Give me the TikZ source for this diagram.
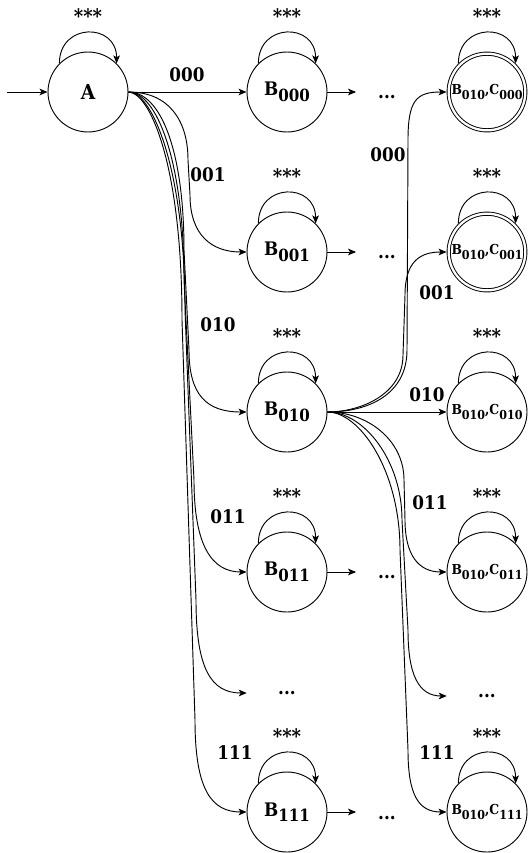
\documentclass[tikz,border=0pt]{standalone}
\usepackage{fontspec}
\setmainfont{DejaVu Serif Condensed}
\usetikzlibrary{positioning,arrows.meta}
\newcommand{\lowsub}[1]{\raisebox{-0.3em}{\scalebox{0.9}{#1}}}

\begin{document}
\begin{tikzpicture}[x=0.75pt,y=-0.75pt,
  state/.style={circle, draw, line width=0.7pt, minimum size=60pt, inner sep=0pt, font=\bfseries\fontsize{14}{15}\selectfont},
  small/.style={state, font=\bfseries\fontsize{10.3}{11}\selectfont},
  accept/.style={double, double distance=1.7pt, minimum size=57.5pt, outer sep=1.6pt},
  edge/.style={-{Stealth[length=6pt,width=5pt,inset=1.5pt]}, line width=0.7pt},
  lbl/.style={font=\bfseries\fontsize{14}{15}\selectfont},
  stars/.style={font=\bfseries\fontsize{15}{16}\selectfont, anchor=base},
  gap/.style={font=\bfseries\fontsize{14}{15}\selectfont, inner sep=0pt}]
  \useasboundingbox (0,0) rectangle (529,853);

  % states
  \node[state, font=\bfseries\fontsize{15.5}{16}\selectfont] (A) at (88,92) {A};
  \node[state] (B000) at (287,92) {B\lowsub{000}};
  \node[state] (B001) at (287,252) {B\lowsub{001}};
  \node[state] (B010) at (287,412) {B\lowsub{010}};
  \node[state] (B011) at (287,572) {B\lowsub{011}};
  \node[state] (B111) at (287,812) {B\lowsub{111}};
  \node[small, accept] (C000) at (487,92) {B\lowsub{010},C\lowsub{000}};
  \node[small, accept] (C001) at (487,252) {B\lowsub{010},C\lowsub{001}};
  \node[small] (C010) at (487,412) {B\lowsub{010},C\lowsub{010}};
  \node[small] (C011) at (487,572) {B\lowsub{010},C\lowsub{011}};
  \node[small] (C111) at (487,812) {B\lowsub{010},C\lowsub{111}};

  % dots
  \node[gap, minimum width=60pt] (Bdots) at (287,693) {...};
  \node[gap, minimum width=60pt] (Cdots) at (487,696) {...};
  \node[gap, minimum width=30pt] (r000) at (387,97) {...};
  \node[gap, minimum width=30pt] (r001) at (387,257) {...};
  \node[gap, minimum width=30pt] (r011) at (387,577) {...};
  \node[gap, minimum width=30pt] (r111) at (387,818) {...};

  % self loops
  \foreach \n in {A,B000,B001,B010,B011,B111,C000,C001,C010,C011,C111} {
    \draw[edge] (\n.135) .. controls +(0,-41) and +(0,-41) .. (\n.45);
    \node[stars] (s\n) at ([yshift=21.4pt]\n.north) {***};
  }

  % start
  \coordinate (start) at (7,92);
  \draw[edge] (start) -- (A);

  % from A
  \draw[edge] (A) -- (B000);
  \draw[edge] (A.east) .. controls +(40,0) and +(0,-40) .. (188,160) -- (190,195)
    .. controls +(0,40) and +(-35,0) .. (B001.west);
  \draw[edge] (A.east) .. controls +(32,0) and +(0,-100) .. (184,250) -- (189,350)
    .. controls +(0,45) and +(-40,0) .. (B010.west);
  \draw[edge] (A.east) .. controls +(28,0) and +(0,-120) .. (184,280) -- (194,480)
    .. controls +(0,65) and +(-35,0) .. (B011.west);
  \draw[edge] (A.east) .. controls +(24,0) and +(0,-140) .. (185,310) -- (196,600)
    .. controls +(0,70) and +(-35,0) .. (Bdots.west);
  \draw[edge] (A.east) .. controls +(20,0) and +(0,-160) .. (182,320) -- (195,720)
    .. controls +(0,70) and +(-35,0) .. (B111.west);

  % to the dots on the right
  \foreach \k/\d in {B000/r000,B001/r001,B011/r011,B111/r111} {
    \draw[edge, shorten >=8pt] (\k.east) -- (\d.west |- \k.east);
  }

  % from B010
  \draw[edge] (B010.east) .. controls +(40,0) and +(0,45) .. (407,350) -- (408,140)
    .. controls +(0,-40) and +(-30,0) .. (C000.west);
  \draw[edge] (B010.east) .. controls +(32,0) and +(0,40) .. (403,355) -- (405,295)
    .. controls +(0,-35) and +(-25,0) .. (C001.west);
  \draw[edge] (B010) -- (C010);
  \draw[edge] (B010.east) .. controls +(40,0) and +(0,-40) .. (404,480) -- (405,520)
    .. controls +(0,35) and +(-28,0) .. (C011.west);
  \draw[edge] (B010.east) .. controls +(36,0) and +(0,-60) .. (402,520) -- (408,630)
    .. controls +(0,45) and +(-28,0) .. (Cdots.west);
  \draw[edge] (B010.east) .. controls +(32,0) and +(0,-80) .. (400,550) -- (408,750)
    .. controls +(0,45) and +(-28,0) .. (C111.west);

  % labels
  \node[lbl] (lA000) at (187,75) {000};
  \node[lbl] (lA001) at (208,175) {001};
  \node[lbl] (lA010) at (218,325) {010};
  \node[lbl] (lA011) at (228,517) {011};
  \node[lbl] (lA111) at (235,753) {111};
  \node[lbl] (lC000) at (388,155) {000};
  \node[lbl] (lC001) at (437,293) {001};
  \node[lbl] (lC010) at (427,395) {010};
  \node[lbl] (lC011) at (430,503) {011};
  \node[lbl] (lC111) at (437,753) {111};
\end{tikzpicture}
\end{document}
